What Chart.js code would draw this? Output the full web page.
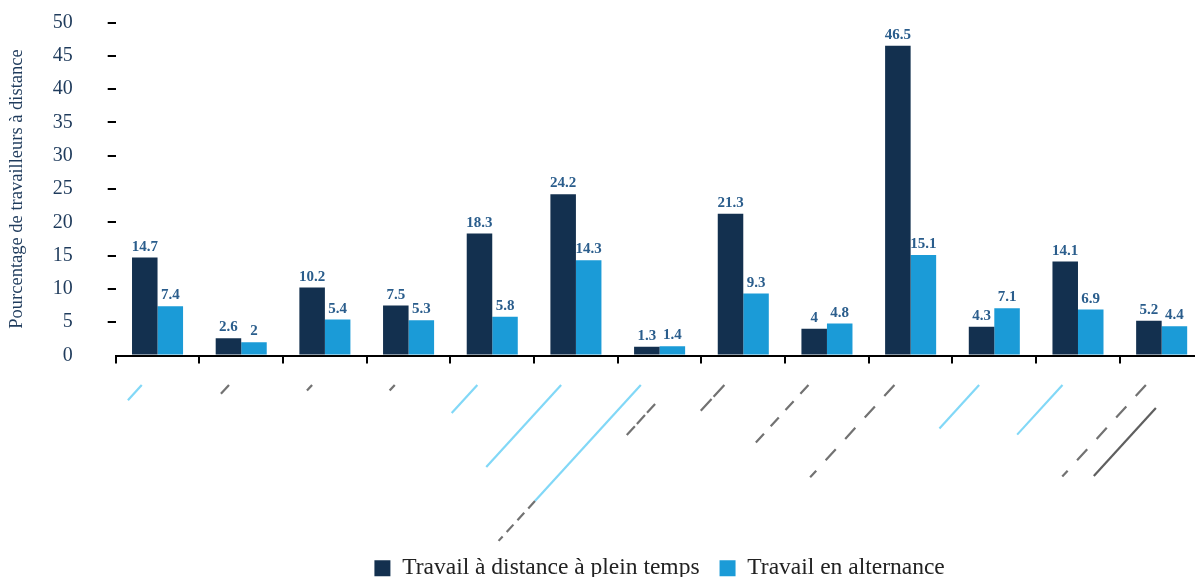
<!DOCTYPE html>
<html>
<head>
<meta charset="utf-8">
<script src="https://cdn.jsdelivr.net/npm/chart.js@4.4.0/dist/chart.umd.min.js"></script>
<style>
  html, body { margin: 0; padding: 0; overflow: hidden; background: #fff; width: 1195px; height: 577px; }
  #wrap { position: absolute; left: 0; top: 0; width: 1210px; height: 590px; }
</style>
</head>
<body>
<div id="wrap"><canvas id="c"></canvas></div>
<script>
// ---- data ----
const categories = ['Catégorie 1','Catégorie 2','Catégorie 3','Catégorie 4','Catégorie 5','Catégorie 6','Catégorie 7','Catégorie 8','Catégorie 9','Catégorie 10','Catégorie 11','Catégorie 12','Catégorie 13'];
const seriesNames = ['Travail à distance à plein temps', 'Travail en alternance'];
const fullTime = [14.7, 2.6, 10.2, 7.5, 18.3, 24.2, 1.3, 21.3, 4, 46.5, 4.3, 14.1, 5.2];
const hybrid   = [7.4, 2, 5.4, 5.3, 5.8, 14.3, 1.4, 9.3, 4.8, 15.1, 7.1, 6.9, 4.4];
const yTicks = [0, 5, 10, 15, 20, 25, 30, 35, 40, 45, 50];
const yTitle = 'Pourcentage de travailleurs à distance';

// ---- styling ----
const SERIF = '"Liberation Serif", "DejaVu Serif", serif';
const DARK = '#13304f';
const LIGHT = '#1b9bd7';
const BLUE_LINE = '#82d8f7';
const GRAY_LINE = '#727272';
const DARK_LINE = '#5f5f5f';

// decorative strokes under the axis (in place of the category labels)
const decor = [
  [{dx:-15.8, dy:29.5, len:20.5, c:BLUE_LINE}],
  [{dx:-12.2, dy:29.5, len:12, c:GRAY_LINE}],
  [{dx:-12.8, dy:29.5, len:7.6, c:GRAY_LINE}],
  [{dx:-13.8, dy:29.5, len:7.6, c:GRAY_LINE}],
  [{dx:-14.9, dy:29.5, len:38, c:BLUE_LINE}],
  [{dx:-14.8, dy:29.5, len:111, c:BLUE_LINE}],
  [{dx:-18.8, dy:29.5, len:157, c:BLUE_LINE},
   {dx:-124.6, dy:145.5, len:54, c:GRAY_LINE, dash:[10,6]},
   {dx:-4.5, dy:48.5, len:43.6, c:GRAY_LINE, dash:[12,3]}],
  [{dx:-18.9, dy:29.5, len:36.5, c:GRAY_LINE, dash:[16,3]}],
  [{dx:-18.5, dy:29.5, len:86.6, c:GRAY_LINE, dash:[12,10]}],
  [{dx:-16.2, dy:29.5, len:125, c:GRAY_LINE, dash:[15,14]}],
  [{dx:-15.2, dy:29.5, len:58.8, c:BLUE_LINE}],
  [{dx:-15.5, dy:29.5, len:67.2, c:BLUE_LINE}],
  [{dx:-15.8, dy:29.5, len:124, c:GRAY_LINE, dash:[15,14]},
   {dx:-5.8, dy:52.5, len:92, c:DARK_LINE}]
];
const ANG = 47.6 * Math.PI / 180;

const decorPlugin = {
  id: 'decor',
  afterDraw(chart) {
    const xs = chart.scales.x;
    const ctx = chart.ctx;
    const base = xs.top;
    ctx.save();
    ctx.lineWidth = 2.2;
    ctx.lineCap = 'butt';
    decor.forEach((strokes, i) => {
      const cx = xs.getPixelForValue(i);
      strokes.forEach(s => {
        const x0 = cx + s.dx, y0 = base + s.dy;
        ctx.strokeStyle = s.c;
        ctx.setLineDash(s.dash || []);
        ctx.beginPath();
        ctx.moveTo(x0, y0);
        ctx.lineTo(x0 - Math.cos(ANG) * s.len, y0 + Math.sin(ANG) * s.len);
        ctx.stroke();
      });
    });
    ctx.restore();
  }
};

const valueLabels = {
  id: 'valueLabels',
  afterDatasetsDraw(chart) {
    const ctx = chart.ctx;
    ctx.save();
    ctx.font = 'bold 15px ' + SERIF;
    ctx.fillStyle = '#2a5d8c';
    ctx.textAlign = 'center';
    ctx.textBaseline = 'alphabetic';
    chart.data.datasets.forEach((ds, di) => {
      const meta = chart.getDatasetMeta(di);
      meta.data.forEach((bar, i) => {
        ctx.fillText(String(ds.data[i]), bar.x, bar.y - 7);
      });
    });
    ctx.restore();
  }
};

new Chart(document.getElementById('c'), {
  type: 'bar',
  data: {
    labels: categories,
    datasets: [
      { label: seriesNames[0], data: fullTime, backgroundColor: DARK, borderWidth: 0 },
      { label: seriesNames[1], data: hybrid, backgroundColor: LIGHT, borderWidth: 0 }
    ]
  },
  options: {
    responsive: true,
    maintainAspectRatio: false,
    animation: false,
    layout: { padding: { top: 22.5, right: 6.5, left: 0, bottom: 0 } },
    datasets: { bar: { categoryPercentage: 0.61, barPercentage: 1 } },
    plugins: {
      tooltip: { enabled: false },
      legend: {
        position: 'bottom',
        fullSize: false,
        labels: {
          boxWidth: 16,
          boxHeight: 16,
          padding: 20,
          color: '#222',
          font: { family: SERIF, size: 23.5 }
        }
      }
    },
    scales: {
      x: {
        offset: true,
        afterFit(scale) { scale.height = 181; },
        border: { display: true, color: '#000', width: 2 },
        grid: { drawOnChartArea: false, drawTicks: true, tickLength: 8, color: '#000', lineWidth: 2, offset: true },
        ticks: { display: false }
      },
      y: {
        min: 0,
        max: 50,
        afterFit(scale) { scale.width = 115.7; scale.paddingTop = 0; scale.paddingBottom = 0; },
        afterBuildTicks(scale) { scale.ticks = yTicks.map(v => ({ value: v })); },
        border: { display: false },
        grid: {
          drawOnChartArea: false, drawTicks: true, tickLength: 8, lineWidth: 2,
          color: (ctx) => (ctx.tick && ctx.tick.value === 0) ? 'rgba(0,0,0,0)' : '#000'
        },
        ticks: { padding: 35, color: '#1f3b5c', font: { family: SERIF, size: 20 } },
        title: { display: true, text: yTitle, color: '#1f3b5c', font: { family: SERIF, size: 18.5 }, padding: { top: 6, bottom: 0 } }
      }
    }
  },
  plugins: [valueLabels, decorPlugin]
});
</script>
</body>
</html>
